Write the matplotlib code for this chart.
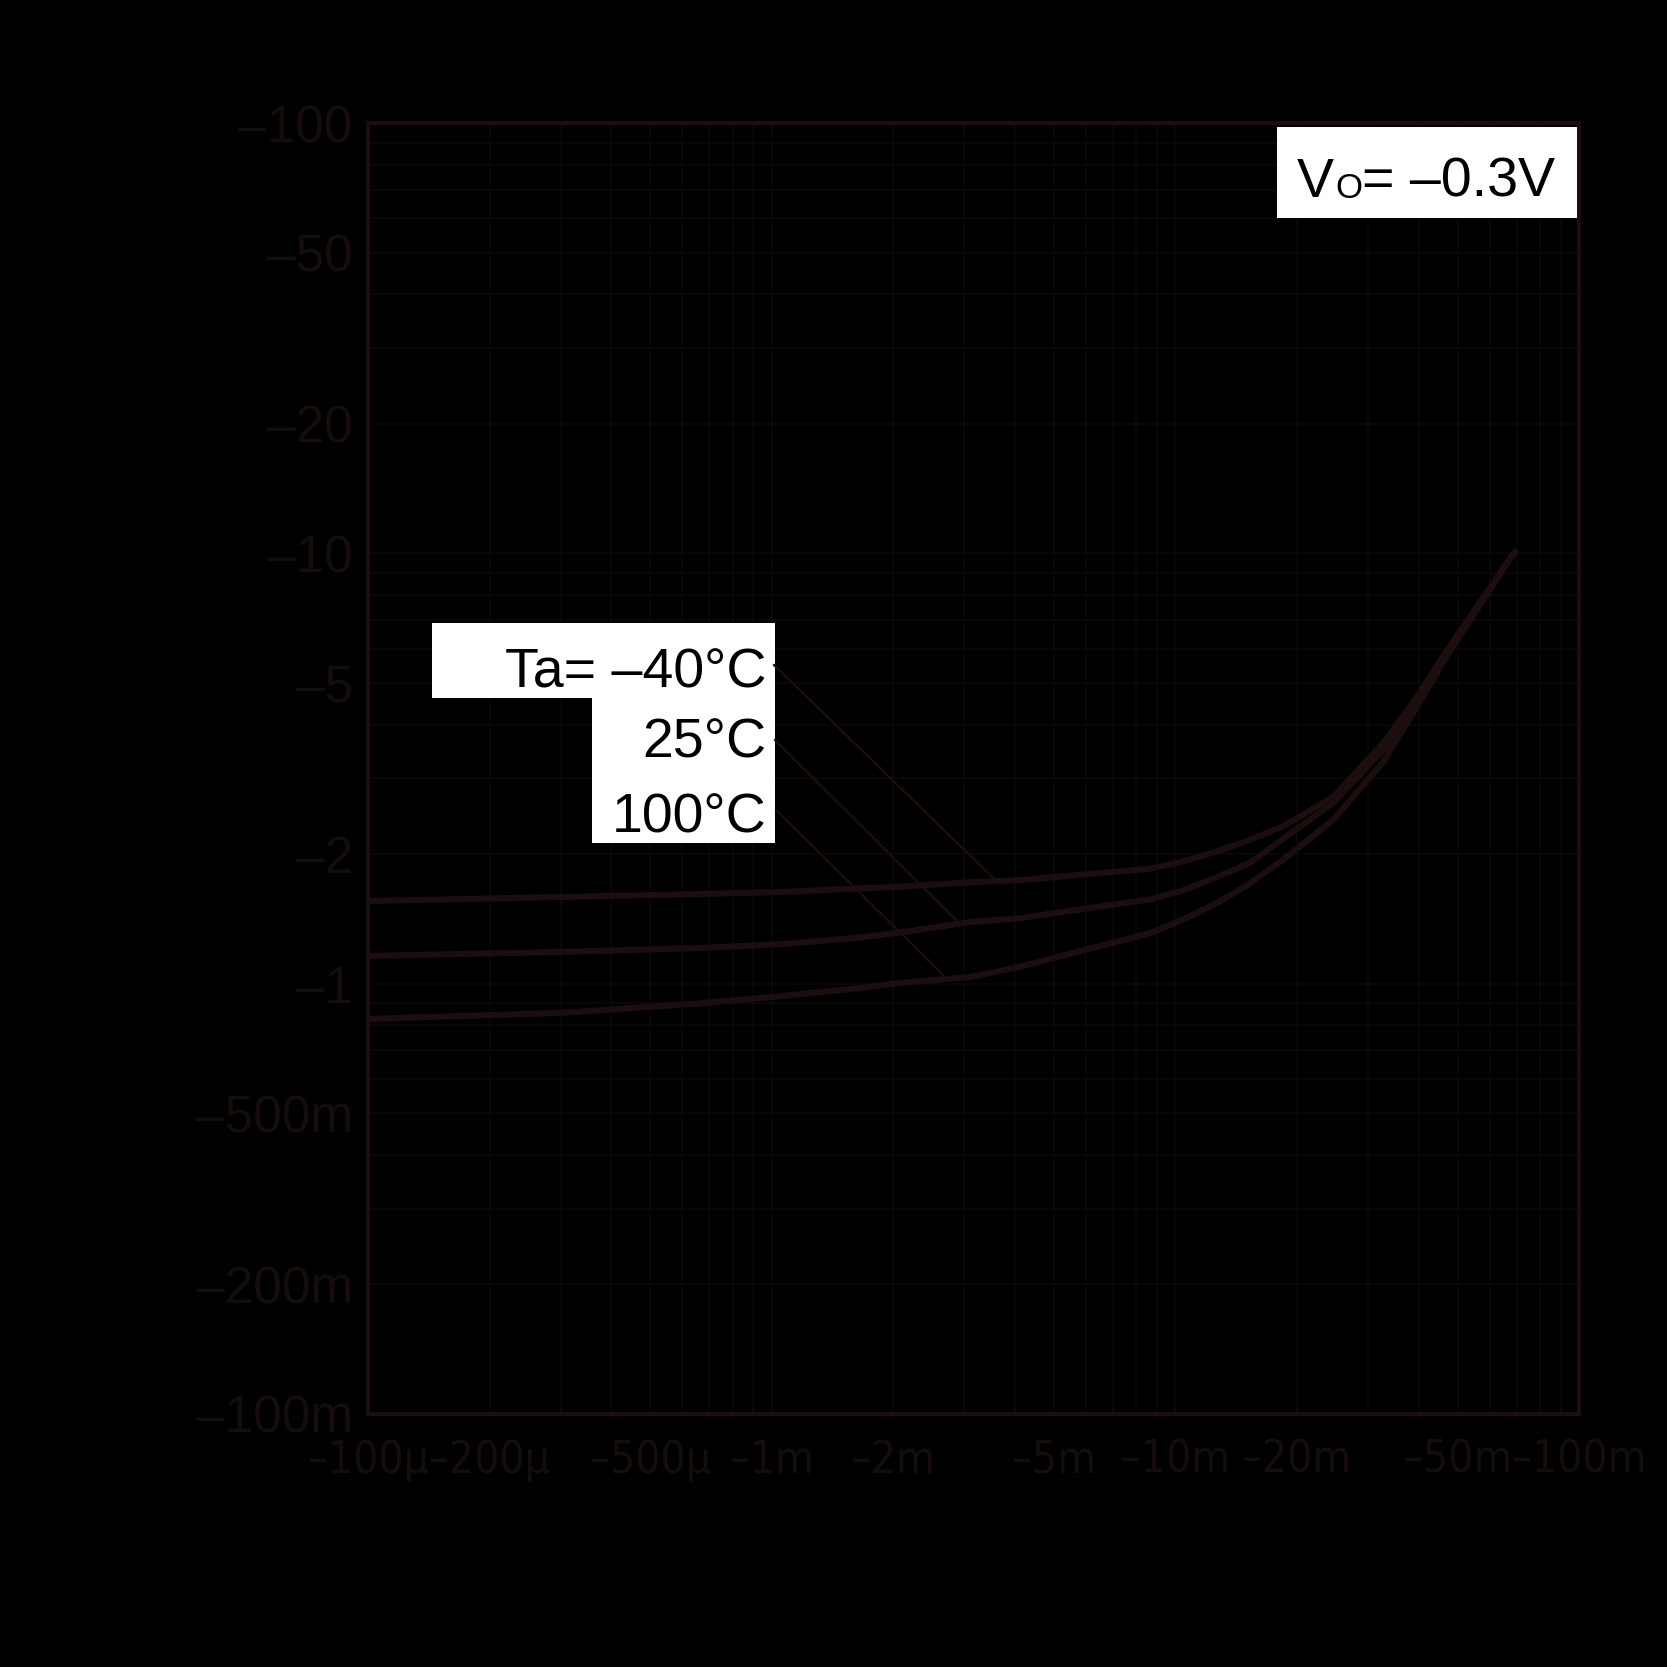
import matplotlib as mpl
mpl.use("Agg")
import matplotlib.pyplot as plt
from matplotlib import font_manager
from matplotlib.font_manager import FontProperties
from matplotlib.patches import Rectangle
from matplotlib.ticker import LogLocator, NullFormatter

# output current magnitude (A) and input voltage magnitude (V)
io_vals = [1e-4, 3e-4, 0.665e-3, 1.05e-3, 1.66e-3, 2.08e-3, 3.1e-3, 4.12e-3,
           8.65e-3, 10.3e-3, 12.68e-3, 15.3e-3, 18.48e-3, 24.57e-3, 32.7e-3,
           38.8e-3, 47.1e-3, 56.9e-3, 66.3e-3, 69.4e-3]
vi_m40 = [1.556, 1.59, 1.615, 1.633, 1.665, 1.68, 1.72, 1.74,
          1.85, 1.915, 2.03, 2.16, 2.32, 2.715, 3.625,
          4.5, 5.95, 7.72, 9.5, 10.07]
vi_25 = [1.16, 1.185, 1.21, 1.235, 1.28, 1.315, 1.39, 1.42,
         1.57, 1.64, 1.77, 1.91, 2.17, 2.629, 3.491,
         4.39, 5.87, 7.67, 9.5, 10.07]
vi_100 = [0.828, 0.855, 0.9, 0.935, 0.977, 1.004, 1.036, 1.095,
          1.31, 1.4, 1.54, 1.71, 1.94, 2.401, 3.274,
          4.25, 5.78, 7.6, 9.5, 10.07]

x_ticks = [1e-4, 2e-4, 5e-4, 1e-3, 2e-3, 5e-3, 1e-2, 2e-2, 5e-2, 1e-1]
x_labels = ["–100µ", "–200µ", "–500µ", "–1m", "–2m", "–5m",
            "–10m", "–20m", "–50m", "–100m"]
y_ticks = [0.1, 0.2, 0.5, 1, 2, 5, 10, 20, 50, 100]
y_labels = ["–100m", "–200m", "–500m", "–1", "–2", "–5",
            "–10", "–20", "–50", "–100"]

temp_labels = ["Ta= –40°C", "25°C", "100°C"]
label_base = [4.89, 3.35, 2.25]          # label baselines (V)
leader_start = [(1.013e-3, 5.50), (1.019e-3, 3.68), (1.025e-3, 2.53)]
leader_end = [(3.56e-3, 1.75), (2.94e-3, 1.37), (2.66e-3, 1.047)]

ink = "#1c0e0e"
txt_c = "#150c0c"
grid_c = "#0e0808"

plt.rcParams["font.family"] = ["Liberation Sans", "DejaVu Sans"]


def pick_narrow_font():
    fl = font_manager.fontManager.ttflist
    for f in fl:
        if f.name == "Liberation Sans Narrow" and f.style == "normal" and f.weight in (400, "normal", "regular"):
            return f.fname
    for f in fl:
        if (str(f.stretch) in ("condensed", "semi-condensed", "extra-condensed")
                and f.style == "normal" and f.weight in (400, "normal", "regular")
                and f.name in ("Roboto", "Roboto Condensed", "Open Sans", "Noto Sans", "DejaVu Sans")):
            return f.fname
    return None


fig = plt.figure(figsize=(16.67, 16.67), dpi=100, facecolor="black")
ax = fig.add_axes([0.2208, 0.1518, 0.7265, 0.7744])
ax.set_facecolor("black")
ax.set_xscale("log")
ax.set_yscale("log")
ax.set_xlim(1e-4, 1e-1)
ax.set_ylim(0.1, 100)
ax.set_axisbelow(True)

# size the condensed x labels so neighbouring labels just fit
nf = pick_narrow_font()
xfp = FontProperties(fname=nf) if nf else FontProperties(family="Liberation Sans")
renderer = fig.canvas.get_renderer()
probe = fig.text(0, 0, "–100µ", fontproperties=xfp, fontsize=40)
w40 = probe.get_window_extent(renderer).width
probe.remove()
xsize = min(40, 40 * 121 / w40)
xfp.set_size(xsize)

ax.xaxis.set_minor_locator(LogLocator(base=10, subs=range(2, 10)))
ax.yaxis.set_minor_locator(LogLocator(base=10, subs=range(2, 10)))
ax.xaxis.set_minor_formatter(NullFormatter())
ax.yaxis.set_minor_formatter(NullFormatter())
ax.set_xticks(x_ticks)
ax.set_xticklabels(x_labels, fontproperties=xfp, color=txt_c)
ax.set_yticks(y_ticks)
ax.set_yticklabels(y_labels, fontsize=37, color=txt_c)
ax.tick_params(which="both", length=0)
ax.tick_params(axis="x", pad=18)
ax.tick_params(axis="y", pad=11)
ax.grid(which="both", color=grid_c, linewidth=1.2)
for sp in ax.spines.values():
    sp.set_color(ink)
    sp.set_linewidth(3)

for vals in (vi_m40, vi_25, vi_100):
    ax.plot(io_vals, vals, color=ink, linewidth=4.4, zorder=5)

for (x0, y0), (x1, y1) in zip(leader_start, leader_end):
    ax.plot([x0, x1], [y0, y1], color=ink, linewidth=1.6, zorder=5)

# white label boxes
boxes = [(0.2591, 0.5813, 0.2058, 0.0450),
         (0.3551, 0.4943, 0.1098, 0.0870),
         (0.7660, 0.8692, 0.1800, 0.0546)]
for bx, by, bw, bh in boxes:
    ax.add_patch(Rectangle((bx, by), bw, bh, transform=fig.transFigure,
                           facecolor="white", edgecolor="none", zorder=3))

for txt, yb in zip(temp_labels, label_base):
    ax.text(0.968e-3, yb, txt, fontsize=40, ha="right", va="baseline",
            color="black", zorder=6)

# Vo= -0.3V (small O)
t1 = ax.text(0.7780, 0.8820, "V", fontsize=40, ha="left", va="baseline",
             color="black", transform=fig.transFigure, zorder=6)
t2 = ax.annotate("O", xy=(1, 0), xycoords=t1, xytext=(1, 2.5),
                 textcoords="offset points", fontsize=25,
                 ha="left", va="bottom", color="black", zorder=6)
ax.annotate("= –0.3V", xy=(1, 0), xycoords=t2, xytext=(0, -2.5),
            textcoords="offset points", fontsize=40,
            ha="left", va="bottom", color="black", zorder=6)

fig.savefig("out.png", dpi=100, facecolor="black")
